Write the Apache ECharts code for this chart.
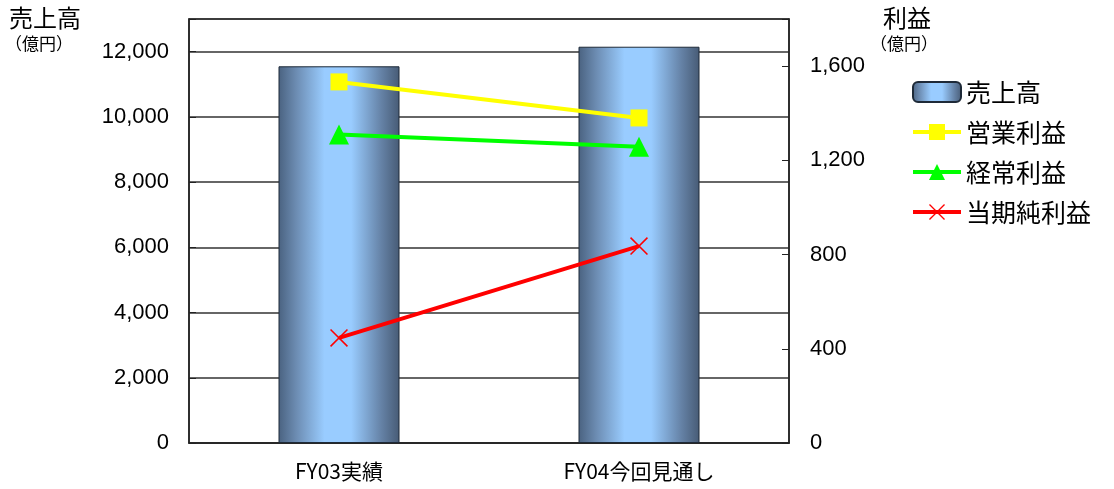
<!DOCTYPE html>
<html>
<head>
<meta charset="utf-8">
<script src="https://cdn.jsdelivr.net/npm/echarts@6/dist/echarts.min.js"></script>
<style>html,body{margin:0;padding:0;background:#fff}#c{width:1114px;height:489px}</style>
</head>
<body>
<div id="c"></div>
<script>
const categories = ['FY03実績', 'FY04今回見通し'];
const sales = [11550, 12150];
const operatingProfit = [1533, 1380];
const ordinaryProfit = [1310, 1258];
const netProfit = [446, 836];
const leftTicks = [0, 2000, 4000, 6000, 8000, 10000, 12000];
const rightTicks = [0, 400, 800, 1200, 1600];

const FONT = '"Liberation Sans", Arial, "Noto Sans CJK JP", sans-serif';
const JFONT = '"Noto Sans CJK JP", sans-serif';
const fmt = v => v.toLocaleString('en-US');

const barGrad = {
  type: 'linear', x: 0, y: 0, x2: 1, y2: 0,
  colorStops: [
    {offset: 0, color: '#4a6280'},
    {offset: 0.15, color: '#6d8db3'},
    {offset: 0.38, color: '#99ccff'},
    {offset: 0.6, color: '#99ccff'},
    {offset: 0.85, color: '#6582a6'},
    {offset: 1, color: '#475b75'}
  ]
};
const crossPath = 'path://M0,0.6L0.6,0L10,9.4L9.4,10Z M9.4,0L10,0.6L0.6,10L0,9.4Z';

const chart = echarts.init(document.getElementById('c'));
chart.setOption({
  animation: false,
  grid: {left: 189, right: 325, top: 19, height: 424, show: true, borderColor: '#222', borderWidth: 1.5, containLabel: false},
  legend: {
    orient: 'vertical', left: 906, top: 74, itemWidth: 48, itemHeight: 20, itemGap: 14,
    lineStyle: {width: 4},
    textStyle: {fontFamily: JFONT, fontSize: 25, color: '#000', lineHeight: 26},
    data: ['売上高', '営業利益', '経常利益', '当期純利益']
  },
  graphic: [
    {type: 'text', left: 9, top: 6, style: {text: '売上高', font: '24px ' + JFONT, fill: '#000'}},
    {type: 'text', left: 5, top: 35, style: {text: '（億円）', font: '17px ' + JFONT, fill: '#000'}},
    {type: 'text', left: 883, top: 6, style: {text: '利益', font: '24px ' + JFONT, fill: '#000'}},
    {type: 'text', left: 870, top: 35, style: {text: '（億円）', font: '17px ' + JFONT, fill: '#000'}}
  ],
  xAxis: {
    type: 'category', data: categories,
    axisLine: {lineStyle: {color: '#222', width: 1.5}},
    axisTick: {inside: true, length: 7, lineStyle: {color: '#222'}},
    axisLabel: {fontFamily: JFONT, fontSize: 21, color: '#000', margin: 18}
  },
  yAxis: [
    {
      type: 'value', min: 0, max: 13000, interval: 2000,
      axisLine: {show: true, lineStyle: {color: '#222', width: 1.5}},
      axisTick: {show: true, inside: true, length: 7, lineStyle: {color: '#222'}},
      axisLabel: {fontFamily: FONT, fontSize: 22, color: '#000', margin: 20,
        formatter: v => leftTicks.includes(v) ? fmt(v) : ''},
      splitLine: {show: true, lineStyle: {color: '#333', width: 1.5}}
    },
    {
      type: 'value', min: 0, max: 1800, interval: 400, position: 'right',
      axisLine: {show: true, lineStyle: {color: '#222', width: 1.5}},
      axisTick: {show: true, inside: true, length: 7, lineStyle: {color: '#222'}},
      axisLabel: {fontFamily: FONT, fontSize: 22, color: '#000', margin: 21,
        formatter: v => rightTicks.includes(v) ? fmt(v) : ''},
      splitLine: {show: false}
    }
  ],
  series: [
    {name: '売上高', type: 'bar', data: sales, yAxisIndex: 0, barWidth: 121,
      itemStyle: {color: barGrad, borderColor: '#1e2a38', borderWidth: 1}},
    {name: '営業利益', type: 'line', data: operatingProfit, yAxisIndex: 1,
      symbol: 'rect', symbolSize: 17, color: '#ffff00', lineStyle: {width: 4, color: '#ffff00'}, z: 3},
    {name: '経常利益', type: 'line', data: ordinaryProfit, yAxisIndex: 1,
      symbol: 'triangle', symbolSize: 20, color: '#00ff00', lineStyle: {width: 4, color: '#00ff00'}, z: 3},
    {name: '当期純利益', type: 'line', data: netProfit, yAxisIndex: 1,
      symbol: crossPath, symbolSize: 18, color: '#ff0000', lineStyle: {width: 4, color: '#ff0000'}, z: 3}
  ]
});
</script>
</body>
</html>
